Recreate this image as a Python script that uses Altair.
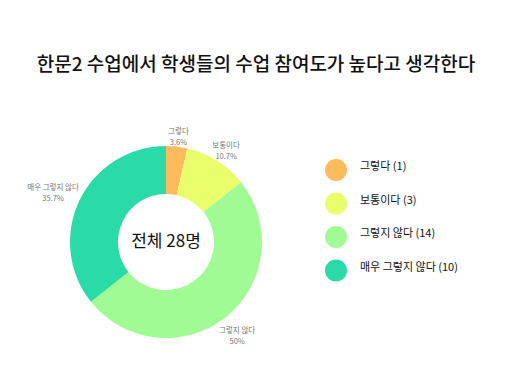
import math
import altair as alt
import pandas as pd

# ---- data ----
categories = ["그렇다", "보통이다", "그렇지 않다", "매우 그렇지 않다"]
counts = [1, 3, 14, 10]
percents = ["3.6%", "10.7%", "50%", "35.7%"]
colors = ["#FEBB5E", "#EAFD6A", "#A1FB94", "#2ADBA8"]
title_text = "한문2 수업에서 학생들의 수업 참여도가 높다고 생각한다"
center_text = "전체 28명"

FONT = "Noto Sans CJK KR"
R_OUT, R_IN = 96, 48
CX, CY = 166, 152
LABEL_FS, LABEL_LH, LABEL_GAP = 7.5, 11, 4


def text_width(s, fs):
    w = 0.0
    for ch in s:
        if "\uac00" <= ch <= "\ud7a3":
            w += fs
        elif ch == " ":
            w += 0.25 * fs
        else:
            w += 0.55 * fs
    return w


total = sum(counts)
rows = []
cum = 0
for i, (c, n, p) in enumerate(zip(categories, counts, percents)):
    mid = 2 * math.pi * (cum + n / 2) / total
    cum += n
    hw = max(text_width(c, LABEL_FS), text_width(p, LABEL_FS)) / 2
    hh = LABEL_LH
    s, co = abs(math.sin(mid)), abs(math.cos(mid))
    d = min(hw / s if s > 1e-6 else 1e9, hh / co if co > 1e-6 else 1e9)
    rows.append(
        dict(
            idx=i,
            cat=c,
            n=n,
            mid=mid,
            legend=f"{c} ({n})",
            label=f"{c}\n{p}",
            lr=R_OUT + LABEL_GAP + d,
        )
    )
df = pd.DataFrame(rows)
legend_labels = list(df["legend"])

base = alt.Chart(df)

arcs = base.mark_arc(innerRadius=R_IN, outerRadius=R_OUT).encode(
    theta=alt.Theta("n:Q", stack=True),
    color=alt.Color(
        "legend:N",
        scale=alt.Scale(domain=legend_labels, range=colors),
        sort=legend_labels,
        legend=alt.Legend(
            title=None,
            orient="none",
            legendX=325,
            legendY=69,
            symbolType="circle",
            symbolSize=484,
            symbolStrokeWidth=0,
            symbolOpacity=1,
            rowPadding=11.5,
            labelOffset=13,
            labelFont=FONT,
            labelFontSize=11,
            labelColor="#111",
            labelBaseline="alphabetic",
            padding=0,
        ),
    ),
    order=alt.Order("idx:Q"),
    x=alt.value(CX),
    y=alt.value(CY),
)

labels = base.mark_text(
    font=FONT,
    fontSize=LABEL_FS,
    lineBreak="\n",
    lineHeight=LABEL_LH,
    color="#777",
    align="center",
    baseline="middle",
).encode(
    theta=alt.Theta("mid:Q", scale=None),
    radius=alt.Radius("lr:Q", scale=None),
    text="label:N",
    x=alt.value(CX),
    y=alt.value(CY),
)

center = alt.Chart(pd.DataFrame({"t": [center_text]})).mark_text(
    font=FONT, fontSize=17, color="#111", align="center", baseline="middle"
).encode(text="t:N", x=alt.value(CX), y=alt.value(CY))

chart = (
    alt.layer(arcs, labels, center)
    .resolve_scale(theta="independent", radius="independent")
    .properties(
        width=512,
        height=294,
        title=alt.Title(
            title_text,
            font=FONT,
            fontSize=19,
            fontWeight=500,
            color="#111",
            anchor="middle",
            offset=15,
        ),
        autosize=alt.AutoSizeParams(type="none"),
        padding={"top": 90, "left": 0, "right": 0, "bottom": 0},
        background="white",
    )
    .configure_view(stroke=None)
)

chart.save("out.html", embed_options={"renderer": "svg", "actions": False})
